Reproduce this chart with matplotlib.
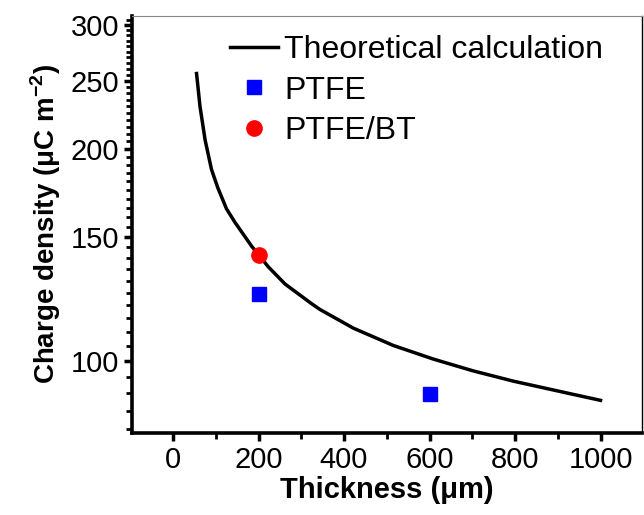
import matplotlib
matplotlib.use("Agg")
import matplotlib.pyplot as plt
from matplotlib.ticker import FixedLocator, FuncFormatter, NullFormatter

plt.rcParams['font.family'] = ['Liberation Sans', 'DejaVu Sans']
plt.rcParams['mathtext.fontset'] = 'custom'
plt.rcParams['mathtext.rm'] = 'Liberation Sans'
plt.rcParams['mathtext.bf'] = 'Liberation Sans:bold'

# Theoretical curve
theory_thickness = [55, 63, 75, 90, 105, 125, 145, 184, 223, 262, 324, 344, 422, 515, 609, 702, 796, 905, 1000]
theory_density = [256, 230, 206, 187, 176, 164.5, 157.3, 145.5, 136, 128.6, 120.6, 118.3, 111.3, 105.2,
                  100.6, 96.8, 93.6, 90.5, 87.9]

ptfe_thickness = [200, 600]
ptfe_density = [124.5, 89.8]

ptfebt_thickness = [200]
ptfebt_density = [141.5]

xticks = [0, 200, 400, 600, 800, 1000]
yticks = [100, 150, 200, 250, 300]

fig = plt.figure(figsize=(6.44, 5.15), dpi=100)
ax = fig.add_axes([132/644, 1-433/515, (642-132)/644, (433-16)/515])

ax.plot(theory_thickness, theory_density, color='black', lw=2.5, label='Theoretical calculation',
        solid_joinstyle='round')
ax.plot(ptfe_thickness, ptfe_density, 's', color='#0000ff', ms=10, ls='none', label='PTFE')
ax.plot(ptfebt_thickness, ptfebt_density, 'o', color='#ff0000', ms=11, ls='none', label='PTFE/BT')

ax.set_yscale('log')
ax.set_xlim(-96, 1097)
ax.set_ylim(79, 309)

ax.xaxis.set_major_locator(FixedLocator(xticks))
ax.xaxis.set_minor_locator(FixedLocator([100, 300, 500, 700, 900]))
ax.yaxis.set_major_locator(FixedLocator(yticks))
ax.yaxis.set_minor_locator(FixedLocator([v for v in range(80, 310, 5) if v not in yticks]))
ax.yaxis.set_major_formatter(FuncFormatter(lambda v, p: f"{v:.0f}"))
ax.yaxis.set_minor_formatter(NullFormatter())

ax.tick_params(axis='both', which='major', direction='out', length=6, width=2.5, labelsize=21, pad=3)
ax.tick_params(axis='both', which='minor', direction='out', length=4, width=2.0)
ax.tick_params(axis='x', which='both', top=False)
ax.tick_params(axis='y', which='both', right=False)

for s in ['left', 'bottom']:
    ax.spines[s].set_linewidth(2.6)
ax.spines['top'].set_linewidth(0.8)
ax.spines['top'].set_color('#888888')
ax.spines['right'].set_linewidth(1.0)

ax.set_xlabel('Thickness (\u03bcm)', fontsize=21, fontweight='bold', labelpad=2)
ax.set_ylabel('Charge density (\u03bcC m$^{\\mathbf{-2}}$)', fontsize=20, fontweight='bold', labelpad=6)

leg = fig.legend(loc='upper left', bbox_to_anchor=(230/644, 1-35/515), frameon=False,
                 fontsize=23, handlelength=1.5, handletextpad=0.2, labelspacing=0.33,
                 borderpad=0, borderaxespad=0)

fig.savefig('out.png', dpi=100)
